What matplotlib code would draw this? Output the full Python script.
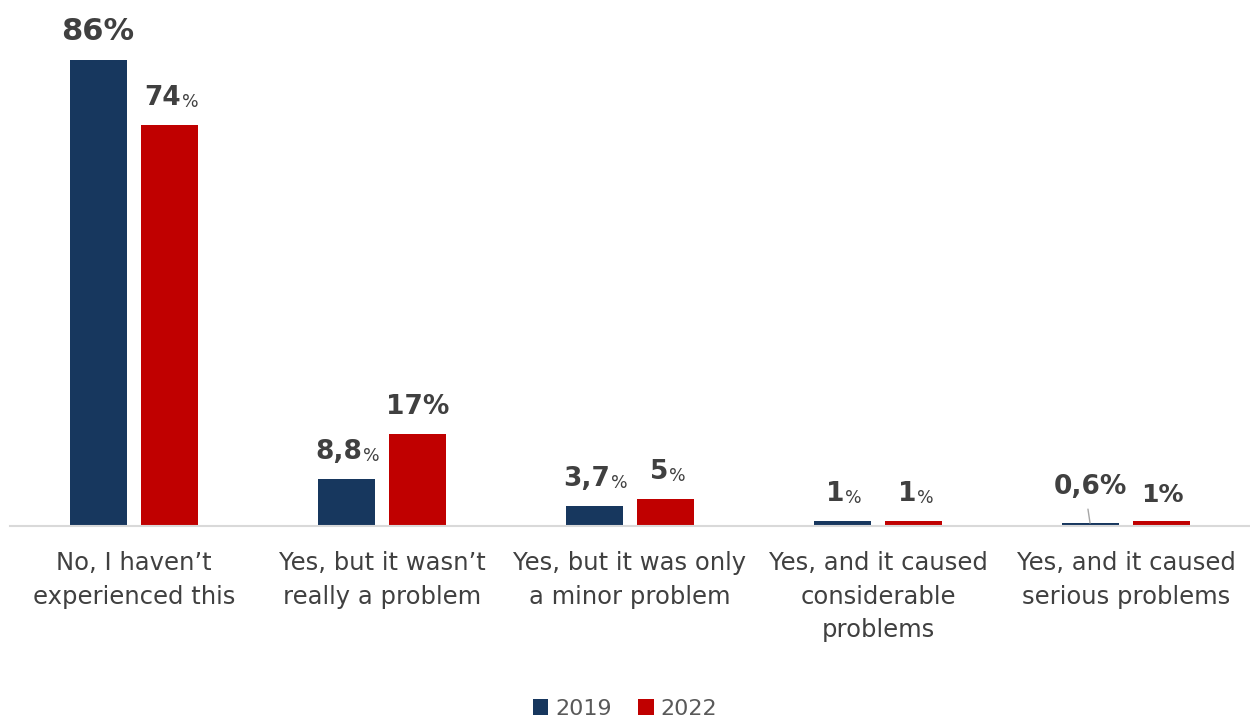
import matplotlib
matplotlib.use("Agg")
import matplotlib.pyplot as plt
import numpy as np

categories = ["No, I haven\u2019t\nexperienced this",
              "Yes, but it wasn\u2019t\nreally a problem",
              "Yes, but it was only\na minor problem",
              "Yes, and it caused\nconsiderable\nproblems",
              "Yes, and it caused\nserious problems"]
vals_2019 = [86, 8.8, 3.7, 1, 0.6]
vals_2022 = [74, 17, 5, 1, 1]
labels_2019 = ["86", "8,8", "3,7", "1", "0,6"]
labels_2022 = ["74", "17", "5", "1", "1"]
# whether the % sign is drawn small (True) or same size as the number
small_pct_2019 = [False, True, True, True, False]
small_pct_2022 = [True, False, True, True, False]

navy = "#17375E"
red = "#C00000"
txt = "#404040"

plt.rcParams['font.family'] = ['DejaVu Sans']

fig = plt.figure(figsize=(12.5, 7.17), dpi=100)
ax = fig.add_axes([0.008, 0.266, 0.992, 0.681])

x = np.arange(len(categories))
w = 0.23
off = 0.145
b1 = ax.bar(x - off, vals_2019, w, color=navy, label="2019")
b2 = ax.bar(x + off, vals_2022, w, color=red, label="2022")

ax.set_xlim(-0.5, 4.5)
ax.set_ylim(0, 90)
ax.set_yticks([])
for s in ["top", "right", "left"]:
    ax.spines[s].set_visible(False)
ax.spines["bottom"].set_color("#D9D9D9")
ax.spines["bottom"].set_linewidth(1.5)
ax.set_xticks(x)
ax.set_xticklabels(categories, fontsize=17.5, color="#404040", linespacing=1.5)
ax.tick_params(axis="x", length=0, pad=18)


def add_label(xpos, h, num, small, size, dx=0, dy=10):
    if not small:
        ax.annotate(num + "%", xy=(xpos, h), xytext=(dx, dy),
                    textcoords="offset points", ha="center", va="bottom",
                    fontsize=size, fontweight="bold", color=txt)
        return
    t = ax.annotate(num, xy=(xpos, h), xytext=(dx - 5, dy),
                    textcoords="offset points", ha="center", va="bottom",
                    fontsize=size, fontweight="bold", color=txt)
    ax.annotate("%", xy=(1, 0), xycoords=t, xytext=(0.5, 0),
                textcoords="offset points", ha="left", va="bottom",
                fontsize=12.5, color=txt)


for i in range(len(categories)):
    size1 = 22 if i == 0 else 19
    if i == 4:
        add_label(x[i] - off, vals_2019[i], labels_2019[i], small_pct_2019[i], 19,
                  dx=0, dy=16.5)
        ax.annotate("", xy=(x[i] - off, vals_2019[i]), xytext=(-1.5, 10),
                    textcoords="offset points",
                    arrowprops=dict(arrowstyle="-", color="#A6A6A6", lw=1,
                                    shrinkA=0, shrinkB=0))
    else:
        add_label(x[i] - off, vals_2019[i], labels_2019[i], small_pct_2019[i], size1)
    add_label(x[i] + off, vals_2022[i], labels_2022[i], small_pct_2022[i], 18 if i == 4 else 19)

fig.legend(handles=[b1, b2], labels=["2019", "2022"], loc="lower center",
           bbox_to_anchor=(0.5, -0.03), ncol=2, frameon=False, fontsize=16,
           labelcolor="#595959", handlelength=0.7, handleheight=0.7,
           handletextpad=0.3, columnspacing=1.2)

fig.savefig("out.png", dpi=100)
